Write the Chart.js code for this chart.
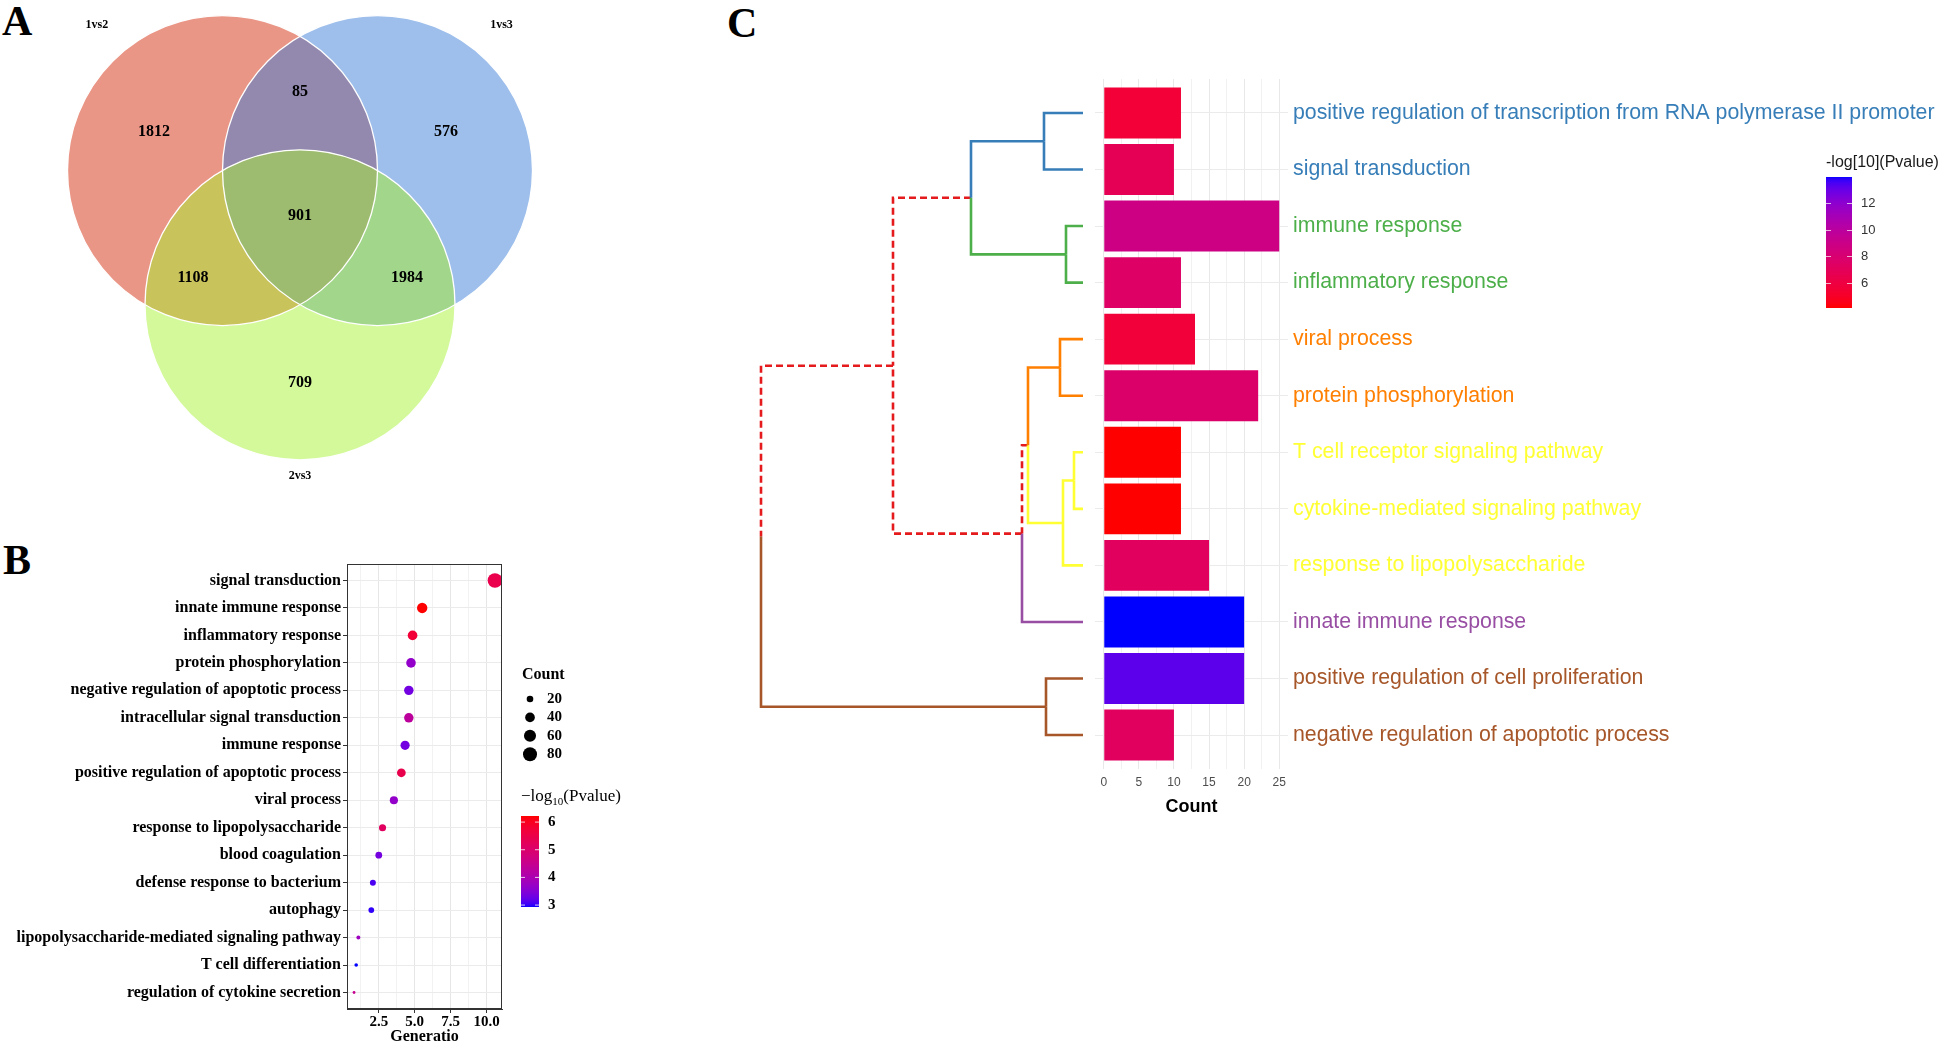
<!DOCTYPE html>
<html><head><meta charset="utf-8">
<script src="https://cdn.jsdelivr.net/npm/chart.js"></script>
<style>
html,body{margin:0;padding:0;background:#fff;}
body{width:1944px;height:1045px;position:relative;overflow:hidden;}
canvas{position:absolute;}
.tag{position:absolute;font-family:"Liberation Serif","Times New Roman",serif;font-weight:bold;font-size:42px;line-height:1;color:#000;}
</style></head><body>
<div class="tag" style="left:2px;top:0px">A</div>
<div class="tag" style="left:3px;top:539px">B</div>
<div class="tag" style="left:727px;top:2px">C</div>
<canvas id="venn" width="560" height="540" style="left:0;top:0"></canvas>
<canvas id="dot" width="660" height="505" style="left:0;top:540px"></canvas>
<canvas id="dendro" width="355" height="830" style="left:740px;top:0"></canvas>
<canvas id="bars" width="859" height="830" style="left:1085px;top:0"></canvas>
<script>
// ---------------- DATA ----------------
// Panel A (Venn)
const vennSets = ['1vs2', '1vs3', '2vs3'];
const vennRegions = ['1vs2', '1vs3', '2vs3', '1vs2&1vs3', '1vs2&2vs3', '1vs3&2vs3', 'all'];
const vennCounts = [1812, 576, 709, 85, 1108, 1984, 901];

// Panel B (dot plot)
const dotTerms = ['signal transduction', 'innate immune response', 'inflammatory response', 'protein phosphorylation',
  'negative regulation of apoptotic process', 'intracellular signal transduction', 'immune response',
  'positive regulation of apoptotic process', 'viral process', 'response to lipopolysaccharide', 'blood coagulation',
  'defense response to bacterium', 'autophagy', 'lipopolysaccharide-mediated signaling pathway',
  'T cell differentiation', 'regulation of cytokine secretion'];
const dotGeneRatio = [10.58, 5.52, 4.85, 4.74, 4.59, 4.59, 4.33, 4.07, 3.55, 2.76, 2.50, 2.09, 1.98, 1.08, 0.93, 0.78];
const dotCount = [87, 45, 40, 39, 38, 38, 36, 33, 29, 23, 21, 17, 16, 9, 8, 6];
const dotLogP = [5.45, 6.22, 5.73, 3.65, 3.33, 4.3, 3.33, 5.43, 3.65, 5.17, 3.36, 3.1, 3.0, 3.8, 2.93, 4.5];
const dotRatioTicks = [2.5, 5.0, 7.5, 10.0];
const dotCountLegend = [20, 40, 60, 80];
const dotLogPTicks = [3, 4, 5, 6];

// Panel C (dendrogram + bars)
const barTerms = ['positive regulation of transcription from RNA polymerase II promoter', 'signal transduction',
  'immune response', 'inflammatory response', 'viral process', 'protein phosphorylation',
  'T cell receptor signaling pathway', 'cytokine-mediated signaling pathway', 'response to lipopolysaccharide',
  'innate immune response', 'positive regulation of cell proliferation', 'negative regulation of apoptotic process'];
const barCount = [11, 10, 25, 11, 13, 22, 11, 11, 15, 20, 20, 10];
const barLogP = [5.6, 6.8, 8.8, 7.5, 5.7, 7.7, 4.13, 4.13, 7.2, 13.95, 13.2, 7.2];
const barCountTicks = [0, 5, 10, 15, 20, 25];
const barLogPTicks = [6, 8, 10, 12];
const leafCluster = [0, 0, 1, 1, 2, 2, 3, 3, 3, 4, 5, 5];
const dendroMerge = [[-7, -8], [-3, -4], [1, -9], [-5, -6], [-11, -12], [-1, -2], [4, 3], [7, -10], [6, 2], [9, 8], [10, 5]];
const dendroHeight = [0.9, 1.7, 2.0, 2.3, 3.7, 3.9, 5.5, 6.1, 11.2, 19.0, 32.2];

// ---------------- STYLE / LAYOUT ----------------
const serif = '"Liberation Serif","Times New Roman",serif';
const sans = '"Liberation Sans",Arial,Helvetica,sans-serif';
const vennColors = ['#EA9686', '#9EBFEC', '#D3F99B'];
const vennPairColors = {'0-1': '#9389AF', '0-2': '#C9C35B', '1-2': '#A1D68B'};
const vennTripleColor = '#9EBC6F';
const vennLayout = {
  canvasWidth: 560,
  radius: 1,
  centers: [[-0.5, 0.2887], [0.5, 0.2887], [0, -0.5774]],
  regionLabel: [[-0.942, 0.538], [0.942, 0.538], [0, -1.08], [0, 0.795], [-0.69, -0.404], [0.69, -0.404], [0, -0.005]],
  setLabel: [[-1.31, 1.228], [1.30, 1.228], [0, -1.68]],
  xRange: [-1.9355, 1.6774], yRange: [-2.0948, 1.389]
};
const clusterColors = ['#377EB8', '#4DAF4A', '#FF7F00', '#FFFF33', '#984EA3', '#A65628'];
const mixedColor = '#E41A1C';

Chart.defaults.animation = false;
Chart.defaults.events = [];
Chart.defaults.plugins.legend.display = false;
Chart.defaults.plugins.tooltip.enabled = false;

// CIELAB gradient (like ggplot's scale_*_gradient)
const labGradient = (function () {
  function toLin(c) { c /= 255; return c <= 0.04045 ? c / 12.92 : Math.pow((c + 0.055) / 1.055, 2.4); }
  function toS(c) { c = c <= 0.0031308 ? 12.92 * c : 1.055 * Math.pow(c, 1 / 2.4) - 0.055; return Math.round(Math.min(1, Math.max(0, c)) * 255); }
  function f(t) { return t > 0.008856 ? Math.cbrt(t) : 7.787 * t + 16 / 116; }
  function fi(t) { const t3 = t * t * t; return t3 > 0.008856 ? t3 : (t - 16 / 116) / 7.787; }
  function hexToLab(h) {
    const r = toLin(parseInt(h.slice(1, 3), 16)), g = toLin(parseInt(h.slice(3, 5), 16)), b = toLin(parseInt(h.slice(5, 7), 16));
    const X = (0.4124 * r + 0.3576 * g + 0.1805 * b) / 0.95047, Y = 0.2126 * r + 0.7152 * g + 0.0722 * b, Z = (0.0193 * r + 0.1192 * g + 0.9505 * b) / 1.08883;
    const fx = f(X), fy = f(Y), fz = f(Z);
    return [116 * fy - 16, 500 * (fx - fy), 200 * (fy - fz)];
  }
  function labToRgb(L, a, b) {
    const fy = (L + 16) / 116, fx = fy + a / 500, fz = fy - b / 200;
    const X = 0.95047 * fi(fx), Y = fi(fy), Z = 1.08883 * fi(fz);
    const r = 3.2406 * X - 1.5372 * Y - 0.4986 * Z, g = -0.9689 * X + 1.8758 * Y + 0.0415 * Z, bb = 0.0557 * X - 0.2040 * Y + 1.0570 * Z;
    return 'rgb(' + toS(r) + ',' + toS(g) + ',' + toS(bb) + ')';
  }
  return function (low, high, vmin, vmax) {
    const A = hexToLab(low), B = hexToLab(high);
    return v => {
      let t = (v - vmin) / (vmax - vmin); t = Math.min(1, Math.max(0, t));
      return labToRgb(A[0] + (B[0] - A[0]) * t, A[1] + (B[1] - A[1]) * t, A[2] + (B[2] - A[2]) * t);
    };
  };
})();

// ---------------- PANEL A: Venn ----------------
(function () {
  const pxPerUnit = vennLayout.canvasWidth / (vennLayout.xRange[1] - vennLayout.xRange[0]);
  const vennPlugin = {
    id: 'vennRegions',
    afterDatasetsDraw(chart) {
      const ctx = chart.ctx;
      const els = vennSets.map((s, i) => chart.getDatasetMeta(i).data[0]);
      const path = el => { ctx.beginPath(); ctx.arc(el.x, el.y, el.options.radius, 0, Math.PI * 2); };
      ctx.save();
      [[0, 1], [0, 2], [1, 2]].forEach(([a, b]) => {
        ctx.save(); path(els[a]); ctx.clip(); path(els[b]); ctx.fillStyle = vennPairColors[a + '-' + b]; ctx.fill(); ctx.restore();
      });
      ctx.save(); path(els[0]); ctx.clip(); path(els[1]); ctx.clip(); path(els[2]); ctx.fillStyle = vennTripleColor; ctx.fill(); ctx.restore();
      ctx.strokeStyle = '#ffffff'; ctx.lineWidth = 1.3;
      els.forEach(el => { path(el); ctx.stroke(); });
      const xs = chart.scales.x, ys = chart.scales.y;
      ctx.fillStyle = '#000'; ctx.textAlign = 'center'; ctx.textBaseline = 'middle';
      ctx.font = 'bold 16px ' + serif;
      vennCounts.forEach((c, i) => {
        const p = vennLayout.regionLabel[i];
        ctx.fillText(String(c), xs.getPixelForValue(p[0]), ys.getPixelForValue(p[1]));
      });
      ctx.font = 'bold 12px ' + serif;
      vennSets.forEach((s, i) => {
        const p = vennLayout.setLabel[i];
        ctx.fillText(s, xs.getPixelForValue(p[0]), ys.getPixelForValue(p[1]));
      });
      ctx.restore();
    }
  };
  new Chart(document.getElementById('venn'), {
    type: 'bubble',
    data: {
      datasets: vennSets.map((s, i) => ({
        label: s,
        data: [{x: vennLayout.centers[i][0], y: vennLayout.centers[i][1], r: vennLayout.radius * pxPerUnit}],
        backgroundColor: vennColors[i],
        borderWidth: 0,
        clip: false
      }))
    },
    options: {
      responsive: false,
      layout: {padding: 0, autoPadding: false},
      scales: {
        x: {type: 'linear', display: false, min: vennLayout.xRange[0], max: vennLayout.xRange[1]},
        y: {type: 'linear', display: false, min: vennLayout.yRange[0], max: vennLayout.yRange[1]}
      }
    },
    plugins: [vennPlugin]
  });
})();

// ---------------- PANEL B: dot plot ----------------
(function () {
  const lpMin = Math.min(...dotLogP), lpMax = Math.max(...dotLogP);
  const colorOf = labGradient('#0000FF', '#FF0000', lpMin, lpMax);
  const sizeOf = c => Math.sqrt(Math.max(1.5, 0.635 * c - 1.8));
  const rMin = Math.min(...dotGeneRatio), rMax = Math.max(...dotGeneRatio), rr = rMax - rMin;
  const step = dotRatioTicks[1] - dotRatioTicks[0];
  const xTicks = [];
  dotRatioTicks.forEach(v => { xTicks.push(v - step / 2, v); });
  const isMajor = v => dotRatioTicks.some(t => Math.abs(t - v) < 1e-9);

  const legendPlugin = {
    id: 'dotLegend',
    afterDraw(chart) {
      const ctx = chart.ctx, a = chart.chartArea;
      ctx.save();
      ctx.strokeStyle = '#333333'; ctx.lineWidth = 1;
      ctx.strokeRect(a.left + 0.5, a.top + 0.5, a.right - a.left - 1, a.bottom - a.top - 1);
      ctx.fillStyle = '#000'; ctx.textAlign = 'left'; ctx.textBaseline = 'middle';
      ctx.font = 'bold 16px ' + serif;
      ctx.fillText('Count', 522, 135);
      ctx.font = 'bold 15px ' + serif;
      dotCountLegend.forEach((c, i) => {
        const y = 159 + i * 18.4;
        ctx.beginPath(); ctx.arc(530, y, sizeOf(c), 0, Math.PI * 2); ctx.fill();
        ctx.fillText(String(c), 547, y);
      });
      // colour bar title: −log10(Pvalue)
      ctx.font = '17px ' + serif;
      let x = 521;
      ctx.fillText('\u2212log', x, 257); x += ctx.measureText('\u2212log').width;
      ctx.font = '11px ' + serif;
      ctx.fillText('10', x, 262); x += ctx.measureText('10').width;
      ctx.font = '17px ' + serif;
      ctx.fillText('(Pvalue)', x, 257);
      const bx = 521, bw = 18, top = 276, bot = 367;
      for (let y = top; y < bot; y++) {
        const v = lpMax - (y + 0.5 - top) / (bot - top) * (lpMax - lpMin);
        ctx.fillStyle = colorOf(v); ctx.fillRect(bx, y, bw, 1);
      }
      ctx.font = 'bold 15px ' + serif; ctx.fillStyle = '#000';
      ctx.strokeStyle = 'rgba(255,255,255,0.8)';
      dotLogPTicks.forEach(v => {
        const y = bot - (v - lpMin) / (lpMax - lpMin) * (bot - top);
        ctx.beginPath(); ctx.moveTo(bx, y); ctx.lineTo(bx + 4, y); ctx.moveTo(bx + bw - 4, y); ctx.lineTo(bx + bw, y); ctx.stroke();
        ctx.fillText(String(v), 548, y);
      });
      ctx.restore();
    }
  };

  new Chart(document.getElementById('dot'), {
    type: 'bubble',
    data: {
      datasets: [{
        data: dotTerms.map((t, i) => ({x: dotGeneRatio[i], y: i + 1, r: sizeOf(dotCount[i])})),
        backgroundColor: dotLogP.map(colorOf),
        borderWidth: 0
      }]
    },
    options: {
      responsive: false,
      layout: {padding: {left: 0, right: 158, top: 24, bottom: 0}},
      scales: {
        x: {
          type: 'linear', min: rMin - 0.05 * rr, max: rMax + 0.05 * rr,
          afterBuildTicks: s => { s.ticks = xTicks.map(v => ({value: v})); },
          afterFit: s => { s.height = 36; },
          grid: {
            color: c => (c.tick && isMajor(c.tick.value)) ? '#E6E6E6' : '#F2F2F2',
            tickColor: c => (c.tick && isMajor(c.tick.value)) ? '#333333' : 'rgba(0,0,0,0)',
            tickLength: 4, lineWidth: 1
          },
          border: {display: true, color: '#333333'},
          ticks: {
            autoSkip: false, maxRotation: 0, minRotation: 0, padding: 0,
            color: '#000', font: {family: serif, size: 15, weight: 'bold'},
            callback: v => isMajor(v) ? v.toFixed(1) : ''
          },
          title: {display: true, text: 'Generatio', color: '#000', font: {family: serif, size: 16, weight: 'bold', lineHeight: 1}, padding: {top: 0, bottom: 0}}
        },
        y: {
          type: 'linear', reverse: true, min: 0.4, max: dotTerms.length + 0.6,
          afterBuildTicks: s => { s.ticks = dotTerms.map((t, i) => ({value: i + 1})); },
          afterFit: s => { s.width = 347; },
          grid: {color: '#EBEBEB', tickColor: '#333333', tickLength: 4},
          border: {display: true, color: '#333333'},
          ticks: {
            autoSkip: false, padding: 2, color: '#000', font: {family: serif, size: 16, weight: 'bold'},
            callback: v => dotTerms[Math.round(v) - 1]
          }
        }
      }
    },
    plugins: [legendPlugin]
  });
})();

// ---------------- PANEL C: dendrogram ----------------
(function () {
  const nodeY = [], nodeCl = [];
  const info = id => {
    if (id < 0) { const k = -id - 1; return {y: k + 1, h: 0, cl: leafCluster[k]}; }
    const k = id - 1; return {y: nodeY[k], h: dendroHeight[k], cl: nodeCl[k]};
  };
  const datasets = [];
  dendroMerge.forEach((m, k) => {
    const a = info(m[0]), b = info(m[1]);
    nodeY[k] = (a.y + b.y) / 2;
    nodeCl[k] = a.cl === b.cl ? a.cl : -1;
    const H = dendroHeight[k];
    [a, b].forEach(c => {
      const mixed = c.cl < 0;
      datasets.push({
        data: [{x: c.h, y: c.y}, {x: H, y: c.y}, {x: H, y: nodeY[k]}],
        showLine: true, pointRadius: 0, borderWidth: 2.6,
        borderColor: mixed ? mixedColor : clusterColors[c.cl],
        borderDash: mixed ? [7, 4] : [],
        borderCapStyle: 'butt', borderJoinStyle: 'miter', tension: 0, clip: false
      });
    });
  });
  new Chart(document.getElementById('dendro'), {
    type: 'scatter',
    data: {datasets},
    options: {
      responsive: false,
      layout: {padding: {left: 0, right: 0, top: 79, bottom: 61}},
      scales: {
        x: {type: 'linear', display: false, reverse: true, min: -1.2, max: 34.3},
        y: {type: 'linear', display: false, reverse: true, min: 0.4, max: barTerms.length + 0.6}
      }
    }
  });
})();

// ---------------- PANEL C: bars ----------------
(function () {
  const lpMin = Math.min(...barLogP), lpMax = Math.max(...barLogP);
  const colorOf = labGradient('#FF0000', '#0000FF', lpMin, lpMax);
  const step = barCountTicks[1] - barCountTicks[0];
  const xTicks = [];
  barCountTicks.forEach((v, i) => { xTicks.push(v); if (i < barCountTicks.length - 1) xTicks.push(v + step / 2); });
  const isMajor = v => barCountTicks.some(t => Math.abs(t - v) < 1e-9);
  const cMax = Math.max(...barCount);

  const legendPlugin = {
    id: 'barLegend',
    afterDraw(chart) {
      const ctx = chart.ctx;
      ctx.save();
      ctx.fillStyle = '#1A1A1A'; ctx.textAlign = 'left'; ctx.textBaseline = 'middle';
      ctx.font = '16px ' + sans;
      ctx.fillText('-log[10](Pvalue)', 741, 163);
      const bx = 741, bw = 26, top = 177, bot = 308;
      for (let y = top; y < bot; y++) {
        const v = lpMax - (y + 0.5 - top) / (bot - top) * (lpMax - lpMin);
        ctx.fillStyle = colorOf(v); ctx.fillRect(bx, y, bw, 1);
      }
      ctx.font = '13px ' + sans; ctx.fillStyle = '#333333';
      ctx.strokeStyle = 'rgba(255,255,255,0.7)'; ctx.lineWidth = 1;
      barLogPTicks.forEach(v => {
        const y = Math.round(bot - (v - lpMin) / (lpMax - lpMin) * (bot - top)) + 0.5;
        ctx.beginPath(); ctx.moveTo(bx, y); ctx.lineTo(bx + 5, y); ctx.moveTo(bx + bw - 5, y); ctx.lineTo(bx + bw, y); ctx.stroke();
        ctx.fillText(String(v), 776, y);
      });
      ctx.restore();
    }
  };

  new Chart(document.getElementById('bars'), {
    type: 'bar',
    data: {
      datasets: [{
        data: barTerms.map((t, i) => ({x: barCount[i], y: i + 1})),
        backgroundColor: barLogP.map(colorOf),
        borderWidth: 0,
        barPercentage: 0.9, categoryPercentage: 1
      }]
    },
    options: {
      responsive: false,
      indexAxis: 'y',
      layout: {padding: {left: 10, right: 0, top: 79, bottom: 0}},
      scales: {
        x: {
          type: 'linear', min: -0.05 * cMax, max: cMax * 1.05,
          afterBuildTicks: s => { s.ticks = xTicks.map(v => ({value: v})); },
          afterFit: s => { s.height = 61; },
          grid: {color: c => (c.tick && isMajor(c.tick.value)) ? '#E8E8E8' : '#F1F1F1', lineWidth: 1, drawTicks: false},
          border: {display: false},
          ticks: {
            autoSkip: false, maxRotation: 0, minRotation: 0, padding: 6,
            color: '#4D4D4D', font: {family: sans, size: 12},
            callback: v => isMajor(v) ? String(v) : ''
          },
          title: {display: true, text: 'Count', color: '#000', font: {family: sans, size: 18, weight: 'bold', lineHeight: 1}, padding: {top: 0, bottom: 14}}
        },
        y: {
          type: 'linear', position: 'right', reverse: true, offset: false,
          min: 0.4, max: barTerms.length + 0.6,
          afterBuildTicks: s => { s.ticks = barTerms.map((t, i) => ({value: i + 1})); },
          afterFit: s => { s.width = 656; },
          grid: {color: '#EBEBEB', drawTicks: false, offset: false},
          border: {display: false},
          ticks: {
            autoSkip: false, padding: 5, font: {family: sans, size: 21.3},
            color: c => clusterColors[leafCluster[c.index]] || '#000',
            callback: v => barTerms[Math.round(v) - 1]
          }
        }
      }
    },
    plugins: [legendPlugin]
  });
})();
</script>
</body></html>
